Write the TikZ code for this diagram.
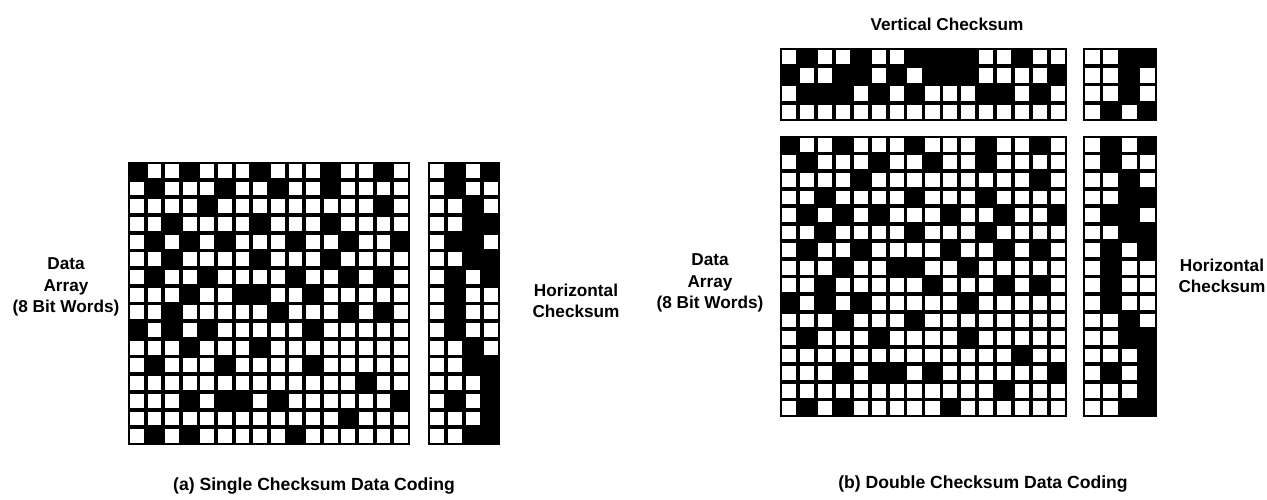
\documentclass[tikz,border=0pt]{standalone}
\usepackage{fontspec}
\setmainfont{Liberation Sans}
\begin{document}
\begin{tikzpicture}[x=1pt,y=-1pt,
  lbl/.style={font=\bfseries\fontsize{17.2}{21.7}\selectfont, align=center, inner sep=0pt},
  captxt/.style={font=\bfseries\fontsize{17.6}{20}\selectfont, inner sep=0pt}]
\useasboundingbox[fill=white] (0,0) rectangle (1267,500);

% \bitgrid{x0}{y0}{x1}{y1}{columns}{rows}{row list}: a black field with a
% white square in every cell whose bit is 0
\newcommand\bitgrid[7]{%
  \fill[black] (#1,#2) rectangle (#3,#4);
  \pgfmathsetmacro\cw{(#3-#1)/#5}%
  \pgfmathsetmacro\ch{(#4-#2)/#6}%
  \foreach \row [count=\r from 0] in #7 {%
    \foreach \b [count=\c from 0] in \row {%
      \ifnum\b=0
        \fill[white] ({#1+\c*\cw+1.9},{#2+\r*\ch+1.9}) rectangle ++({\cw-3.8},{\ch-3.8});
      \fi
    }%
  }%
}

% 16 data words, one row each (1 = set bit)
\def\datarows{{1,0,0,1,0,0,0,1,0,0,0,1,0,0,1,0},
{0,1,0,0,0,1,0,0,1,0,0,1,0,0,0,0},
{0,0,0,0,1,0,0,0,0,0,0,0,0,0,1,0},
{0,0,1,0,0,0,0,1,0,0,0,1,0,0,0,0},
{0,1,0,1,0,1,0,0,0,1,0,0,1,0,0,1},
{0,0,1,0,0,0,0,1,0,0,0,1,0,0,0,0},
{0,1,0,0,1,0,0,0,0,1,0,0,1,0,1,0},
{0,0,0,1,0,0,1,1,0,0,1,0,0,0,0,0},
{0,0,1,0,0,0,0,0,1,0,0,0,1,0,1,0},
{1,0,1,0,1,0,0,0,0,0,1,0,0,0,0,0},
{0,0,0,1,0,0,0,1,0,0,0,0,0,0,0,0},
{0,1,0,0,0,1,0,0,0,0,1,0,0,0,0,0},
{0,0,0,0,0,0,0,0,0,0,0,0,0,1,0,0},
{0,0,0,1,0,1,1,0,1,0,0,0,0,0,0,1},
{0,0,0,0,0,0,0,0,0,0,0,0,1,0,0,0},
{0,1,0,1,0,0,0,0,0,1,0,0,0,0,0,0}}
% row sums in binary
\def\hrows{{0,1,0,1},{0,1,0,0},{0,0,1,0},{0,0,1,1},{0,1,1,0},{0,0,1,1},{0,1,0,1},{0,1,0,0},
{0,1,0,0},{0,1,0,0},{0,0,1,0},{0,0,1,1},{0,0,0,1},{0,1,0,1},{0,0,0,1},{0,0,1,1}}
% column sums, least significant bit on top
\def\vrows{{0,1,0,0,1,0,0,1,1,1,1,0,0,1,0,0},
{1,0,0,1,1,0,1,0,1,1,1,0,0,0,0,1},
{0,1,1,1,0,1,0,1,0,0,0,1,1,0,1,0},
{0,0,0,0,0,0,0,0,0,0,0,0,0,0,0,0}}
\def\crows{{0,0,1,1},{0,0,1,0},{0,0,1,0},{0,1,0,1}}

% (a) single checksum
\bitgrid{128}{162}{410}{445}{16}{16}{\datarows}
\bitgrid{428}{162}{500}{445}{4}{16}{\hrows}
\node[lbl] (adata) at (66,287) {Data\\Array\\(8 Bit Words)};
\node[lbl] (ahor) at (576,301) {Horizontal\\Checksum};
\node[captxt] (acap) at (314,486) {(a) Single Checksum Data Coding};

% (b) double checksum
\bitgrid{780}{48}{1067}{121}{16}{4}{\vrows}
\bitgrid{1083}{48}{1157}{121}{4}{4}{\crows}
\bitgrid{780}{136}{1067}{417}{16}{16}{\datarows}
\bitgrid{1083}{136}{1157}{417}{4}{16}{\hrows}
\node[lbl] (bvert) at (947,24) {Vertical Checksum};
\node[lbl] (bdata) at (710,283) {Data\\Array\\(8 Bit Words)};
\node[lbl] (bhor) at (1222,276) {Horizontal\\Checksum};
\node[captxt] (bcap) at (983,484) {(b) Double Checksum Data Coding};
\end{tikzpicture}
\end{document}
